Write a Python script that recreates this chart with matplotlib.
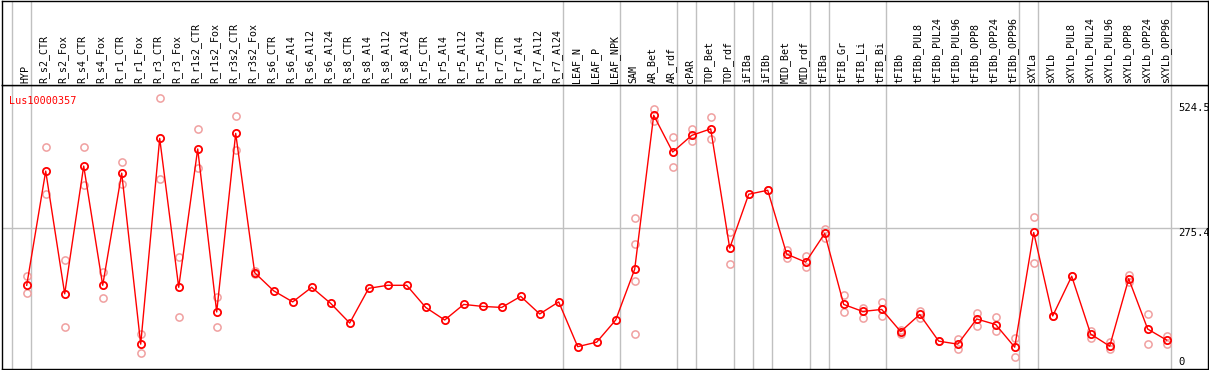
import numpy as np
import matplotlib
matplotlib.use("Agg")
import matplotlib.pyplot as plt
import matplotlib.transforms as mtransforms

CATEGORIES = ["HYP", "R_s2_CTR", "R_s2_Fox", "R_s4_CTR", "R_s4_Fox", "R_r1_CTR", "R_r1_Fox",
              "R_r3_CTR", "R_r3_Fox", "R_r1s2_CTR", "R_r1s2_Fox", "R_r3s2_CTR", "R_r3s2_Fox",
              "R_s6_CTR", "R_s6_Al4", "R_s6_Al12", "R_s6_Al24", "R_s8_CTR", "R_s8_Al4",
              "R_s8_Al12", "R_s8_Al24", "R_r5_CTR", "R_r5_Al4", "R_r5_Al12", "R_r5_Al24",
              "R_r7_CTR", "R_r7_Al4", "R_r7_Al12", "R_r7_Al24", "LEAF_N", "LEAF_P", "LEAF_NPK",
              "SAM", "AR_Bet", "AR_rdf", "cPAR", "TOP_Bet", "TOP_rdf", "iFIBa", "iFIBb",
              "MID_Bet", "MID_rdf", "tFIBa", "tFIB_Gr", "tFIB_Li", "tFIB_Bi", "tFIBb",
              "tFIBb_PUL8", "tFIBb_PUL24", "tFIBb_PUL96", "tFIBb_OPP8", "tFIBb_OPP24",
              "tFIBb_OPP96", "sXYLa", "sXYLb", "sXYLb_PUL8", "sXYLb_PUL24", "sXYLb_PUL96",
              "sXYLb_OPP8", "sXYLb_OPP24", "sXYLb_OPP96"]

MEANS = [162, 389, 145, 399, 162, 385, 45, 454, 158, 433, 109, 464, 187,
         151, 129, 158, 126, 87, 156, 162, 162, 118, 93, 124, 120, 118, 140, 105, 129,
         40, 49, 93, 194, 500, 427, 460, 473, 236, 343, 351, 224, 208, 265, 124, 110, 114,
         70, 104, 51, 45, 95, 84, 39, 267, 101, 180, 65, 41, 175, 75, 53]

REPLICATES = [[180, 146], [436, 343], [212, 79], [436, 361], [188, 136], [407, 363],
              [65, 27], [534, 373], [218, 98], [472, 395], [139, 80], [498, 431], [190, 184],
              [], [], [], [], [], [], [], [], [], [], [], [], [], [], [], [],
              [], [], [],
              [295, 244, 171, 65], [512, 488], [456, 397], [473, 448], [497, 452], [267, 204],
              [343], [352, 351], [232, 216], [220, 198], [274, 257], [142, 108], [116, 96],
              [128, 100], [74, 66], [111, 97], [51], [56, 36], [106, 81], [98, 72], [58, 20],
              [298, 206], [101], [180], [72, 57], [49, 35], [183, 169], [104, 45], [61, 45]]

# group separators drawn just after these columns
SEPARATORS = [-1, 0, 28, 31, 34, 35, 37, 38, 39, 41, 42, 45, 52, 53, 60]
YTICKS = [524.5, 275.4, 0]
GENE = "Lus10000357"

assert len(CATEGORIES) == len(MEANS) == len(REPLICATES)

W, H = 1209, 370
fig = plt.figure(figsize=(W / 100, H / 100), dpi=100)
fig.patch.set_facecolor("white")

left, right = 1.5, 1208
ax = fig.add_axes([left / W, 1 / H, (right - left) / W, 284 / H])
hx = fig.add_axes([left / W, (H - 85) / H, (right - left) / W, 84.5 / H], sharex=ax)

x = np.arange(len(CATEGORIES))
xlim = (-(26.7 - left) / 19, (right - 26.7) / 19)
ax.set_xlim(*xlim)
ax.set_ylim(-4.4, 560.2)
hx.set_ylim(0, 1)

for a in (ax, hx):
    a.set_xticks([])
    a.set_yticks([])
    for s in a.spines.values():
        s.set_color("black")
        s.set_linewidth(1)
    for s in SEPARATORS:
        a.axvline(s + 0.2, color="#c0c0c0", lw=1, zorder=0)

ax.axhline(275.4, color="#c0c0c0", lw=1, zorder=0)

# replicates
for i, reps in enumerate(REPLICATES):
    if reps:
        ax.plot([i] * len(reps), reps, "o", ms=5.2, mfc="none", mec="#f0a0a0", mew=1.1, zorder=2)

ax.plot(x, MEANS, "-", color="red", lw=1, zorder=3)
ax.plot(x, MEANS, "o", ms=5.2, mfc="none", mec="red", mew=1.3, zorder=4)

mono = "DejaVu Sans Mono"
for i, name in enumerate(CATEGORIES):
    hx.text(i - 0.08, 0.02, name, rotation=90, ha="center", va="bottom",
            fontsize=7.2, family=mono, color="black")

ax.text(0.006, 0.96, GENE, transform=ax.transAxes, ha="left", va="top",
        fontsize=7.3, family=mono, color="red")

trans = mtransforms.blended_transform_factory(ax.transData, ax.transData)
for t in YTICKS:
    ax.text(60.6, t, "%g" % t if t == 0 else "%.1f" % t, transform=trans,
            ha="left", va="bottom" if t == 0 else "top", fontsize=7.6, family=mono)

fig.savefig("out.png", dpi=100)
